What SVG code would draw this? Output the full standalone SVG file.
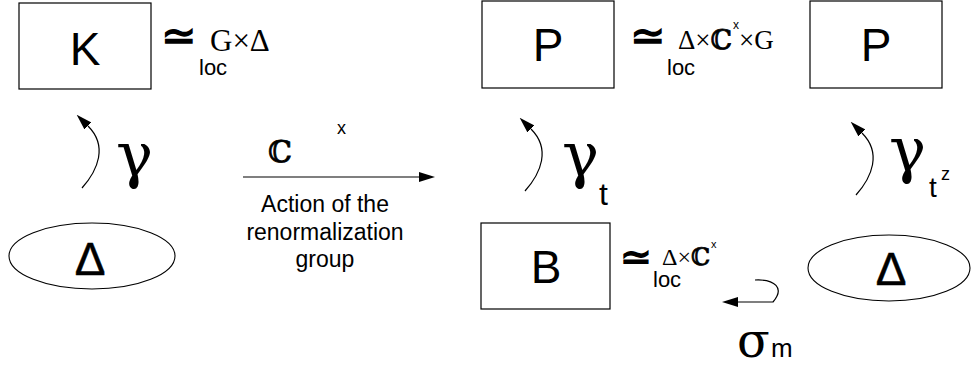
<svg xmlns="http://www.w3.org/2000/svg" width="971" height="367" viewBox="0 0 971 367">
<style>
.box{fill:#fff;stroke:#000;stroke-width:1.2}
.ell{fill:#fff;stroke:#000;stroke-width:1.1}
.big{font-family:"Liberation Sans",Arial,sans-serif;font-size:46px;text-anchor:middle;fill:#000}
.delta{stroke:#000;stroke-width:0.5}
.sans{font-family:"Liberation Sans",Arial,sans-serif;fill:#000}
.ser{font-family:"Liberation Serif","DejaVu Serif",serif;fill:#000}
.dj{font-family:"DejaVu Serif","DejaVu Sans",serif;fill:#000}
.bb{stroke:#000;stroke-width:0.8}
.sym{font-family:"DejaVu Sans",sans-serif;fill:#000;stroke:#000;stroke-width:1.4}
.conn{fill:none;stroke:#000;stroke-width:1.2}
</style>
<defs>
<marker id="ah" markerUnits="userSpaceOnUse" markerWidth="16" markerHeight="10" refX="0" refY="5" orient="auto" viewBox="0 0 16 10">
<path d="M0,0 L16,5 L0,10 z" fill="#000"/>
</marker>
</defs>

<g id="node-K">
<rect class="box" x="19" y="3" width="132" height="86"/>
<text class="big" x="85" y="65">K</text>
</g>
<g id="label-K">
<text class="sym" x="161" y="50" font-size="42">≃</text>
<text class="ser" x="210" y="51" font-size="31">G×Δ</text>
<text class="sans" x="199" y="75" font-size="22">loc</text>
</g>

<g id="node-P1">
<rect class="box" x="482" y="1" width="132" height="87"/>
<text class="big" x="548" y="61">P</text>
</g>
<g id="label-P1">
<text class="sym" x="630" y="50" font-size="42">≃</text>
<text class="ser" x="678" y="49" font-size="27">Δ×<tspan class="dj bb">ℂ</tspan><tspan class="sans" font-size="12" dx="1" dy="-20">x</tspan><tspan dx="0" dy="20">×G</tspan></text>
<text class="sans" x="667" y="75" font-size="22">loc</text>
</g>

<g id="node-P2">
<rect class="box" x="810" y="1" width="132" height="87"/>
<text class="big" x="876" y="61">P</text>
</g>

<g id="node-Delta1">
<ellipse class="ell" cx="92" cy="256" rx="83" ry="33"/>
<text class="big delta" x="90" y="275" font-size="48">Δ</text>
</g>

<g id="node-B">
<rect class="box" x="481" y="223" width="129" height="86"/>
<text class="big" x="546" y="283">B</text>
</g>
<g id="label-B">
<text class="sym" x="620" y="270" font-size="38">≃</text>
<text class="ser" x="662" y="265" font-size="24">Δ×<tspan class="dj bb">ℂ</tspan><tspan class="sans" font-size="11" dx="1" dy="-17">x</tspan></text>
<text class="sans" x="653" y="287" font-size="22">loc</text>
</g>

<g id="node-Delta2">
<ellipse class="ell" cx="889" cy="268" rx="81" ry="33"/>
<text class="big delta" x="891" y="285" font-size="48">Δ</text>
</g>

<g id="connectors">
<path class="conn" d="M82,188 C98,170 108,146 88,126" marker-end="url(#ah)"/>
<path class="conn" d="M525,191 C541,173 551,149 531,129" marker-end="url(#ah)"/>
<path class="conn" d="M856,195 C872,177 882,153 862,133" marker-end="url(#ah)"/>
<path class="conn" d="M243,177 L419,177" marker-end="url(#ah)"/>
<path class="conn" d="M755,280 C775,279 785,288 773,302 L738,302" marker-end="url(#ah)"/>
</g>

<g id="labels">
<text class="dj" x="116" y="176" font-size="62">γ</text>
<text class="dj" x="562" y="176" font-size="62">γ</text>
<text class="sans" x="599" y="205" font-size="32">t</text>
<text class="dj" x="889" y="171" font-size="62">γ</text>
<text class="sans" x="929" y="197" font-size="28">t</text>
<text class="sans" x="941" y="180" font-size="18">z</text>
<text class="dj bb" x="268" y="162" font-size="30">ℂ</text>
<text class="sans" x="337" y="134" font-size="18">x</text>
<text class="sans" x="325" y="212" font-size="23" text-anchor="middle">Action of the</text>
<text class="sans" x="325" y="240" font-size="23" text-anchor="middle">renormalization</text>
<text class="sans" x="325" y="267" font-size="23" text-anchor="middle">group</text>
<text class="dj" x="737" y="357" font-size="48">σ</text>
<text class="sans" x="771" y="357" font-size="26">m</text>
</g>
</svg>
